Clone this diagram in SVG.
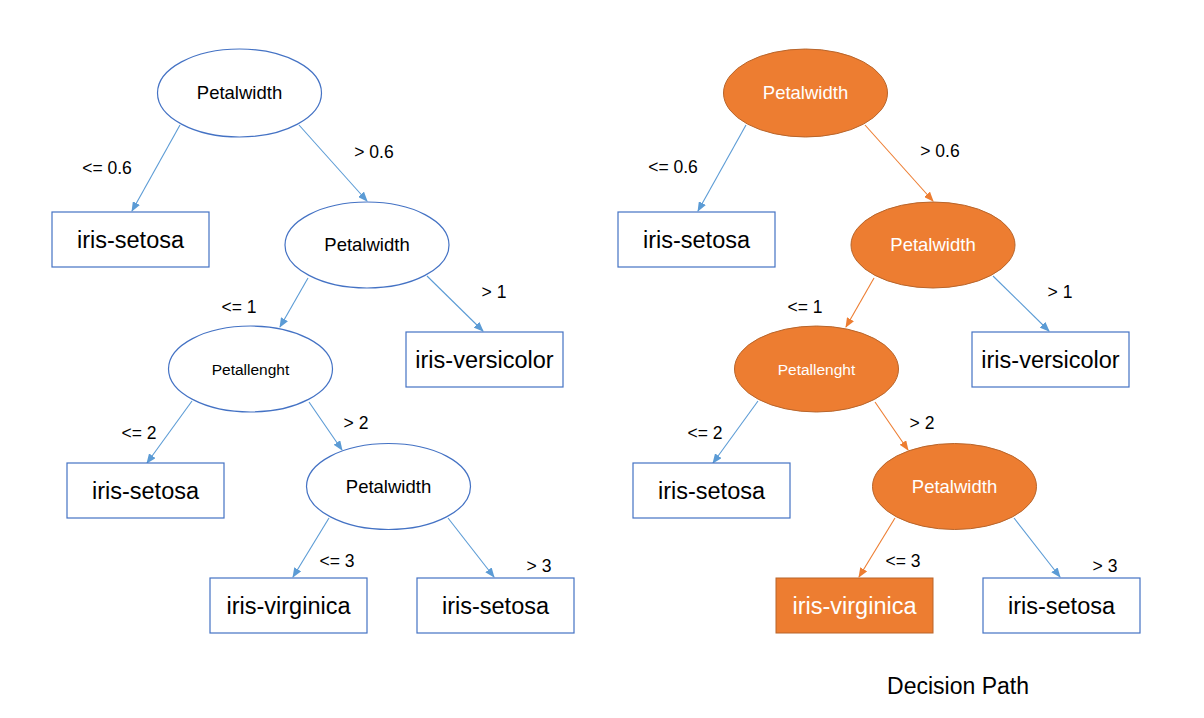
<svg xmlns="http://www.w3.org/2000/svg" width="1204" height="718" viewBox="0 0 1204 718">
<defs>
<style>
.n{fill:#fff;stroke:#4472C4;stroke-width:1.2}
.o{fill:#ED7D31;stroke:#B8652B;stroke-width:1}
.e{stroke:#5B9BD5;stroke-width:1.1;fill:none;marker-end:url(#ab)}
.eo{stroke:#ED7D31;stroke-width:1.1;fill:none;marker-end:url(#ao)}
text{font-family:"Liberation Sans",Arial,sans-serif;text-anchor:middle;fill:#000}
.bx{font-size:23.5px}
.pw{font-size:18.5px}
.pl{font-size:15.5px}
.lb{font-size:17.5px}
.w{fill:#fff}
.dp{font-size:23px}
</style>
<marker id="ab" markerUnits="userSpaceOnUse" markerWidth="10" markerHeight="8" refX="9" refY="4" orient="auto" viewBox="0 0 10 8"><path d="M0,0 L10,4 L0,8 z" fill="#5B9BD5"/></marker>
<marker id="ao" markerUnits="userSpaceOnUse" markerWidth="10" markerHeight="8" refX="9" refY="4" orient="auto" viewBox="0 0 10 8"><path d="M0,0 L10,4 L0,8 z" fill="#ED7D31"/></marker>
</defs>
<rect width="1204" height="718" fill="#fff"/>
<g id="connectors">
<path class="e" d="M180,125 L132,211"/>
<path class="e" d="M299,125 L367,201"/>
<path class="e" d="M308,278 L280,327"/>
<path class="e" d="M427,276 L483,331"/>
<path class="e" d="M192,401 L147,463"/>
<path class="e" d="M309,402 L342,450"/>
<path class="e" d="M329,518 L293,577"/>
<path class="e" d="M448,518 L494,577"/>
<path class="e" d="M746,125 L698,211"/>
<path class="eo" d="M865,125 L933,201"/>
<path class="eo" d="M874,278 L846,327"/>
<path class="e" d="M993,276 L1049,331"/>
<path class="e" d="M758,401 L713,463"/>
<path class="eo" d="M875,402 L908,450"/>
<path class="eo" d="M895,518 L859,577"/>
<path class="e" d="M1014,518 L1060,577"/>
</g>
<g id="edge-labels">
<text class="lb" x="107" y="174">&lt;= 0.6</text>
<text class="lb" x="374" y="158">&gt; 0.6</text>
<text class="lb" x="239" y="313">&lt;= 1</text>
<text class="lb" x="494" y="298">&gt; 1</text>
<text class="lb" x="139" y="439">&lt;= 2</text>
<text class="lb" x="356" y="429">&gt; 2</text>
<text class="lb" x="337" y="567">&lt;= 3</text>
<text class="lb" x="539" y="572">&gt; 3</text>
<text class="lb" x="673" y="173">&lt;= 0.6</text>
<text class="lb" x="940" y="157">&gt; 0.6</text>
<text class="lb" x="805" y="313">&lt;= 1</text>
<text class="lb" x="1060" y="298">&gt; 1</text>
<text class="lb" x="705" y="439">&lt;= 2</text>
<text class="lb" x="922" y="429">&gt; 2</text>
<text class="lb" x="903" y="567">&lt;= 3</text>
<text class="lb" x="1105" y="572">&gt; 3</text>
</g>
<g id="L-root"><ellipse class="n" cx="239.5" cy="93" rx="82" ry="44"/><text class="pw" x="239.5" y="99">Petalwidth</text></g>
<g id="L-setosa1"><rect class="n" x="52" y="212" width="157" height="55"/><text class="bx" x="130.5" y="248">iris-setosa</text></g>
<g id="L-pw2"><ellipse class="n" cx="367" cy="245" rx="82" ry="43"/><text class="pw" x="367" y="251">Petalwidth</text></g>
<g id="L-versicolor"><rect class="n" x="406" y="332" width="157" height="55"/><text class="bx" x="484.5" y="368">iris-versicolor</text></g>
<g id="L-pl"><ellipse class="n" cx="250.5" cy="369" rx="82" ry="43"/><text class="pl" x="250.5" y="375">Petallenght</text></g>
<g id="L-setosa2"><rect class="n" x="67" y="463" width="157" height="55"/><text class="bx" x="145.5" y="499">iris-setosa</text></g>
<g id="L-pw3"><ellipse class="n" cx="388.5" cy="486.5" rx="82" ry="43"/><text class="pw" x="388.5" y="493">Petalwidth</text></g>
<g id="L-virginica"><rect class="n" x="210" y="578" width="157" height="55"/><text class="bx" x="288.5" y="614">iris-virginica</text></g>
<g id="L-setosa3"><rect class="n" x="417" y="578" width="157" height="55"/><text class="bx" x="495.5" y="614">iris-setosa</text></g>
<g id="R-root"><ellipse class="o" cx="805.5" cy="93" rx="82" ry="44"/><text class="pw w" x="805.5" y="99">Petalwidth</text></g>
<g id="R-setosa1"><rect class="n" x="618" y="212" width="157" height="55"/><text class="bx" x="696.5" y="248">iris-setosa</text></g>
<g id="R-pw2"><ellipse class="o" cx="933" cy="245" rx="82" ry="43"/><text class="pw w" x="933" y="251">Petalwidth</text></g>
<g id="R-versicolor"><rect class="n" x="972" y="332" width="157" height="55"/><text class="bx" x="1050.5" y="368">iris-versicolor</text></g>
<g id="R-pl"><ellipse class="o" cx="816.5" cy="369" rx="82" ry="43"/><text class="pl w" x="816.5" y="375">Petallenght</text></g>
<g id="R-setosa2"><rect class="n" x="633" y="463" width="157" height="55"/><text class="bx" x="711.5" y="499">iris-setosa</text></g>
<g id="R-pw3"><ellipse class="o" cx="954.5" cy="486.5" rx="82" ry="43"/><text class="pw w" x="954.5" y="493">Petalwidth</text></g>
<g id="R-virginica"><rect class="o" x="776" y="578" width="157" height="55"/><text class="bx w" x="854.5" y="614">iris-virginica</text></g>
<g id="R-setosa3"><rect class="n" x="983" y="578" width="157" height="55"/><text class="bx" x="1061.5" y="614">iris-setosa</text></g>
<g id="title"><text class="dp" x="958" y="694">Decision Path</text></g>
</svg>
